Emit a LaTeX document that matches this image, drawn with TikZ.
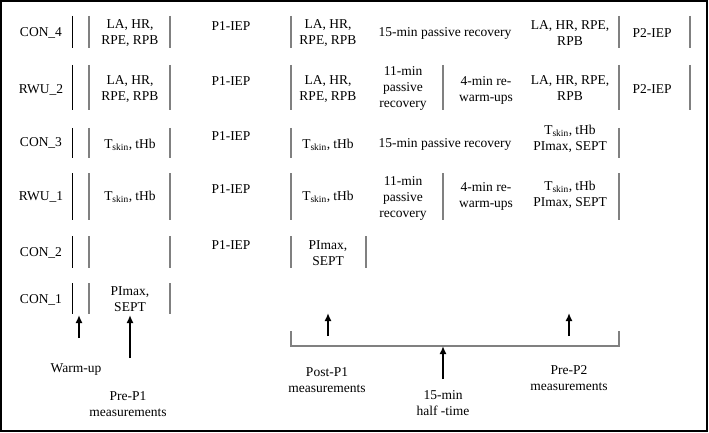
\documentclass[tikz,border=0pt]{standalone}
\usepackage{fontspec}
\setmainfont{Liberation Serif}
\usepackage{tikz}
\usetikzlibrary{calc,arrows.meta}
\tikzset{
  txt/.style = {align=center, inner sep=0pt, font=\fontsize{13.5}{16}\selectfont},
  sep_k/.style = {draw=black, line width=0.8pt},
  sep_g/.style = {draw=gray, line width=1.3pt},
  up_arr/.style = {-{Latex[length=8pt,width=7pt]}, line width=1.6pt, black}
}

\begin{document}
\begin{tikzpicture}[x=1pt, y=-1pt]
	\useasboundingbox (0,0) rectangle (709,433);
	\draw[line width=1.5pt] (1,1) rectangle (707,431);

	% row separators
	\draw[sep_k] (72,16) -- (72,48) (72,65) -- (72,110) (72,128) -- (72,158)
		(72,173) -- (72,220) (72,236) -- (72,268) (72,283) -- (72,314);
	\draw[sep_g] (89,16) -- (89,48) (170,16) -- (170,48) (291,16) -- (291,48)
		(619,16) -- (619,48) (690,16) -- (690,48);
	\draw[sep_g] (89,65) -- (89,110) (170,65) -- (170,110) (291,65) -- (291,110)
		(443,65) -- (443,110) (619,65) -- (619,110) (690,65) -- (690,110);
	\draw[sep_g] (89,128) -- (89,158) (170,128) -- (170,158) (291,128) -- (291,158)
		(619,128) -- (619,158);
	\draw[sep_g] (89,173) -- (89,220) (170,173) -- (170,220) (291,173) -- (291,220)
		(443,173) -- (443,220) (619,173) -- (619,220);
	\draw[sep_g] (89,236) -- (89,268) (170,236) -- (170,268) (291,236) -- (291,268)
		(366,236) -- (366,268);
	\draw[sep_g] (89,283) -- (89,314) (170,283) -- (170,314);

	% CON_4
	\node [txt] (con4) at (41,33) {CON\_4};
	\node [txt] (con4_pre) at (130,33) {LA, HR,\\RPE, RPB};
	\node [txt] (con4_iep1) at (231,26) {P1-IEP};
	\node [txt] (con4_post) at (328,33) {LA, HR,\\RPE, RPB};
	\node [txt] (con4_rec) at (445,33) {15-min passive recovery};
	\node [txt] (con4_pre2) at (570,33) {LA, HR, RPE,\\RPB};
	\node [txt] (con4_iep2) at (652,33) {P2-IEP};

	% RWU_2
	\node [txt] (rwu2) at (41,90) {RWU\_2};
	\node [txt] (rwu2_pre) at (130,89) {LA, HR,\\RPE, RPB};
	\node [txt] (rwu2_iep1) at (231,81) {P1-IEP};
	\node [txt] (rwu2_post) at (328,89) {LA, HR,\\RPE, RPB};
	\node [txt] (rwu2_rec) at (403,88) {11-min\\passive\\recovery};
	\node [txt] (rwu2_rwu) at (486,90) {4-min re-\\warm-ups};
	\node [txt] (rwu2_pre2) at (570,88) {LA, HR, RPE,\\RPB};
	\node [txt] (rwu2_iep2) at (652,89) {P2-IEP};

	% CON_3
	\node [txt] (con3) at (41,143) {CON\_3};
	\node [txt] (con3_pre) at (130,145) {T\textsubscript{skin}, tHb};
	\node [txt] (con3_iep1) at (231,136) {P1-IEP};
	\node [txt] (con3_post) at (328,145) {T\textsubscript{skin}, tHb};
	\node [txt] (con3_rec) at (445,144) {15-min passive recovery};
	\node [txt] (con3_pre2) at (570,139) {T\textsubscript{skin}, tHb\\PImax, SEPT};

	% RWU_1
	\node [txt] (rwu1) at (41,197) {RWU\_1};
	\node [txt] (rwu1_pre) at (130,197) {T\textsubscript{skin}, tHb};
	\node [txt] (rwu1_iep1) at (231,189) {P1-IEP};
	\node [txt] (rwu1_post) at (328,197) {T\textsubscript{skin}, tHb};
	\node [txt] (rwu1_rec) at (403,198) {11-min\\passive\\recovery};
	\node [txt] (rwu1_rwu) at (486,196) {4-min re-\\warm-ups};
	\node [txt] (rwu1_pre2) at (570,195) {T\textsubscript{skin}, tHb\\PImax, SEPT};

	% CON_2 and CON_1
	\node [txt] (con2) at (41,253) {CON\_2};
	\node [txt] (con2_iep1) at (231,245) {P1-IEP};
	\node [txt] (con2_post) at (328,253) {PImax,\\SEPT};
	\node [txt] (con1) at (41,300) {CON\_1};
	\node [txt] (con1_pre) at (130,299) {PImax,\\SEPT};

	% time line
	\draw[sep_g] (291,331) -- (291,346) -- (619,346) -- (619,331);
	\coordinate (warm_s) at (79,338);   \coordinate (warm_e) at (79,315);
	\coordinate (pre1_s) at (130,358);  \coordinate (pre1_e) at (130,315);
	\coordinate (post1_s) at (328,336); \coordinate (post1_e) at (328,313);
	\coordinate (pre2_s) at (569,336);  \coordinate (pre2_e) at (569,313);
	\coordinate (half_s) at (443,379);  \coordinate (half_e) at (443,346);
	\draw[up_arr] (warm_s) -- (warm_e);
	\draw[up_arr] (pre1_s) -- (pre1_e);
	\draw[up_arr] (post1_s) -- (post1_e);
	\draw[up_arr] (pre2_s) -- (pre2_e);
	\draw[up_arr] (half_s) -- (half_e);

	\node [txt] (warmup) at (76,370) {Warm-up};
	\node [txt] (pre1) at (128,404) {Pre-P1\\measurements};
	\node [txt] (post1) at (327,380) {Post-P1\\measurements};
	\node [txt] (half) at (443,403) {15-min\\half -time};
	\node [txt] (pre2) at (569,378) {Pre-P2\\measurements};
\end{tikzpicture}
\end{document}
